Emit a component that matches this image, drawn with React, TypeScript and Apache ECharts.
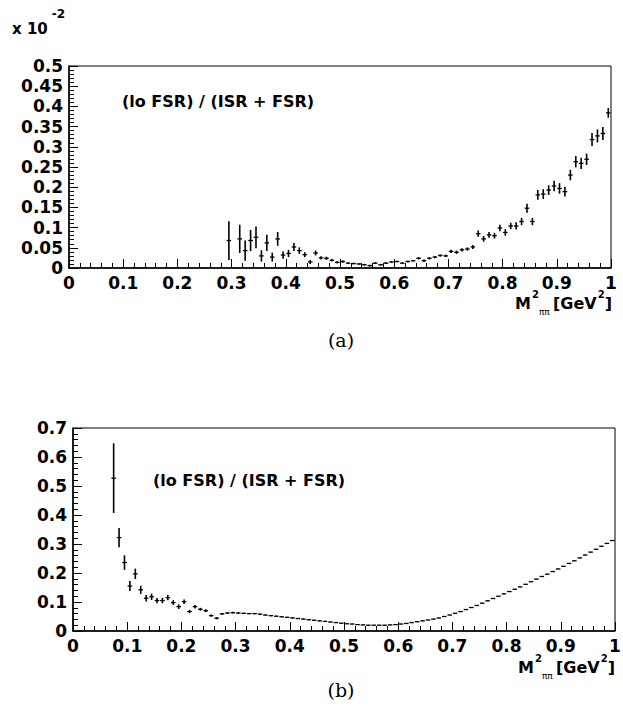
import React, { useEffect, useRef } from "react";
import * as echarts from "echarts";

// ---- data: top panel (a), values in units of 10^-2 ----
const topX = [
  0.295, 0.315, 0.325, 0.335, 0.345, 0.355, 0.365, 0.375, 0.385, 0.395,
  0.405, 0.415, 0.425, 0.435, 0.445, 0.455, 0.465, 0.475, 0.485, 0.495,
  0.505, 0.515, 0.525, 0.535, 0.545, 0.555, 0.565, 0.575, 0.585, 0.595,
  0.605, 0.615, 0.625, 0.635, 0.645, 0.655, 0.665, 0.675, 0.685, 0.695,
  0.705, 0.715, 0.725, 0.735, 0.745, 0.755, 0.765, 0.775, 0.785, 0.795,
  0.805, 0.815, 0.825, 0.835, 0.845, 0.855, 0.865, 0.875, 0.885, 0.895,
  0.905, 0.915, 0.925, 0.935, 0.945, 0.955, 0.965, 0.975, 0.985, 0.995,
];
const topY = [
  0.068, 0.072, 0.043, 0.068, 0.076, 0.030, 0.062, 0.027, 0.072, 0.032,
  0.036, 0.052, 0.043, 0.033, 0.015, 0.037, 0.025, 0.024, 0.019, 0.014,
  0.016, 0.012, 0.011, 0.010, 0.008, 0.006, 0.012, 0.008, 0.012, 0.015,
  0.016, 0.012, 0.016, 0.018, 0.024, 0.018, 0.024, 0.027, 0.031, 0.030,
  0.041, 0.039, 0.045, 0.047, 0.052, 0.085, 0.072, 0.082, 0.080, 0.099,
  0.088, 0.104, 0.104, 0.115, 0.148, 0.115, 0.181, 0.183, 0.193, 0.203,
  0.197, 0.189, 0.230, 0.263, 0.259, 0.269, 0.318, 0.327, 0.333, 0.384,
];
const topErr = [
  0.048, 0.035, 0.025, 0.026, 0.027, 0.014, 0.020, 0.011, 0.017, 0.009,
  0.009, 0.010, 0.008, 0.006, 0.005, 0.006, 0.004, 0.004, 0.003, 0.003,
  0.003, 0.002, 0.002, 0.002, 0.002, 0.002, 0.002, 0.002, 0.002, 0.002,
  0.002, 0.002, 0.002, 0.002, 0.003, 0.003, 0.003, 0.003, 0.003, 0.003,
  0.004, 0.004, 0.004, 0.004, 0.005, 0.008, 0.007, 0.007, 0.007, 0.008,
  0.008, 0.008, 0.009, 0.009, 0.011, 0.009, 0.012, 0.012, 0.012, 0.013,
  0.013, 0.012, 0.013, 0.014, 0.014, 0.014, 0.016, 0.016, 0.016, 0.012,
];

// ---- data: bottom panel (b) ----
const botX = [
  0.075, 0.085, 0.095, 0.105, 0.115, 0.125, 0.135, 0.145, 0.155, 0.165,
  0.175, 0.185, 0.195, 0.205, 0.215, 0.225, 0.235, 0.245, 0.255, 0.265,
  0.275, 0.285, 0.295, 0.305, 0.315, 0.325, 0.335, 0.345, 0.355, 0.365,
  0.375, 0.385, 0.395, 0.405, 0.415, 0.425, 0.435, 0.445, 0.455, 0.465,
  0.475, 0.485, 0.495, 0.505, 0.515, 0.525, 0.535, 0.545, 0.555, 0.565,
  0.575, 0.585, 0.595, 0.605, 0.615, 0.625, 0.635, 0.645, 0.655, 0.665,
  0.675, 0.685, 0.695, 0.705, 0.715, 0.725, 0.735, 0.745, 0.755, 0.765,
  0.775, 0.785, 0.795, 0.805, 0.815, 0.825, 0.835, 0.845, 0.855, 0.865,
  0.875, 0.885, 0.895, 0.905, 0.915, 0.925, 0.935, 0.945, 0.955, 0.965,
  0.975, 0.985, 0.995,
];
const botY = [
  0.527, 0.322, 0.236, 0.155, 0.197, 0.142, 0.113, 0.118, 0.105, 0.105,
  0.115, 0.098, 0.084, 0.101, 0.067, 0.084, 0.075, 0.070, 0.053, 0.044,
  0.059, 0.062, 0.063, 0.062, 0.061, 0.060, 0.060, 0.058, 0.055, 0.053,
  0.051, 0.049, 0.047, 0.045, 0.043, 0.041, 0.039, 0.037, 0.035, 0.033,
  0.031, 0.029, 0.027, 0.025, 0.024, 0.022, 0.021, 0.020, 0.020, 0.020,
  0.020, 0.021, 0.022, 0.024, 0.026, 0.029, 0.032, 0.035, 0.038, 0.041,
  0.045, 0.050, 0.055, 0.061, 0.067, 0.074, 0.081, 0.088, 0.096, 0.104,
  0.112, 0.120, 0.128, 0.136, 0.144, 0.152, 0.161, 0.170, 0.179, 0.188,
  0.196, 0.205, 0.214, 0.223, 0.233, 0.242, 0.252, 0.262, 0.272, 0.282,
  0.292, 0.302, 0.312,
];
const botErr = [
  0.120, 0.033, 0.025, 0.017, 0.018, 0.014, 0.011, 0.011, 0.009, 0.009,
  0.009, 0.008, 0.008, 0.008, 0.006, 0.006, 0.005, 0.005, 0.004, 0.004,
  0.003, 0.003, 0.003, 0.003, 0.002, 0.002, 0.002, 0.002, 0.002, 0.002,
  0.002, 0.002, 0.002, 0.002, 0.002, 0.002, 0.002, 0.002, 0.002, 0.002,
  0.001, 0.001, 0.001, 0.001, 0.001, 0.001, 0.001, 0.001, 0.001, 0.001,
  0.001, 0.001, 0.001, 0.001, 0.001, 0.001, 0.001, 0.001, 0.001, 0.001,
  0.001, 0.001, 0.001, 0.001, 0.001, 0.001, 0.001, 0.001, 0.001, 0.001,
  0.001, 0.001, 0.001, 0.001, 0.001, 0.001, 0.001, 0.001, 0.001, 0.001,
  0.001, 0.001, 0.001, 0.001, 0.001, 0.001, 0.001, 0.001, 0.001, 0.001,
  0.001, 0.001, 0.001,
];

const xTicks = { min: 0, max: 1, interval: 0.1 };
const topTicks = { min: 0, max: 0.5, interval: 0.05 };
const botTicks = { min: 0, max: 0.7, interval: 0.1 };

const FONT = "DejaVu Sans";
const HALF_BIN = 0.0042;

function makeRender() {
  return (params: any, api: any) => {
    const x = api.value(0);
    const y = api.value(1);
    const e = api.value(2);
    const c = api.coord([x, y]);
    const t = api.coord([x, y + e]);
    const b = api.coord([x, Math.max(0, y - e)]);
    const l = api.coord([x - HALF_BIN, y]);
    const r = api.coord([x + HALF_BIN, y]);
    return {
      type: "group",
      children: [
        {
          type: "line",
          shape: { x1: c[0], y1: t[1], x2: c[0], y2: b[1] },
          style: { stroke: "#000", lineWidth: 1.6 },
        },
        {
          type: "line",
          shape: { x1: l[0], y1: c[1], x2: r[0], y2: c[1] },
          style: { stroke: "#000", lineWidth: 1.3 },
        },
      ],
    };
  };
}

function xAxisFor(gridIndex: number) {
  return {
    type: "value",
    gridIndex,
    ...xTicks,
    axisLine: { show: true, onZero: false, lineStyle: { color: "#000", width: 1.5 } },
    axisTick: { show: true, inside: true, length: 9, lineStyle: { color: "#000", width: 1 } },
    minorTick: { show: true, splitNumber: 5, length: 5, lineStyle: { color: "#000", width: 1 } },
    splitLine: { show: false },
    minorSplitLine: { show: false },
    axisLabel: {
      color: "#000",
      fontFamily: FONT,
      fontWeight: "bold",
      fontSize: 17,
      margin: 6,
      formatter: (v: number) => String(Math.round(v * 100) / 100),
    },
  };
}

function yAxisFor(gridIndex: number, ticks: any) {
  return {
    type: "value",
    gridIndex,
    ...ticks,
    axisLine: { show: true, onZero: false, lineStyle: { color: "#000", width: 1.5 } },
    axisTick: { show: true, inside: true, length: 9, lineStyle: { color: "#000", width: 1 } },
    minorTick: { show: true, splitNumber: 5, length: 5, lineStyle: { color: "#000", width: 1 } },
    splitLine: { show: false },
    minorSplitLine: { show: false },
    axisLabel: {
      color: "#000",
      fontFamily: FONT,
      fontWeight: "bold",
      fontSize: 17,
      margin: 6,
      formatter: (v: number) => String(Math.round(v * 1000) / 1000),
    },
  };
}

const titleRich = {
  b: { fontFamily: FONT, fontWeight: "bold", fontSize: 16, fill: "#000", lineHeight: 22, verticalAlign: "bottom" },
  sup: { fontFamily: FONT, fontWeight: "bold", fontSize: 10, fill: "#000", lineHeight: 22, verticalAlign: "top", padding: [0, 0, 0, 1] },
  sub: { fontFamily: FONT, fontSize: 9, fill: "#000", lineHeight: 22, verticalAlign: "bottom", padding: [0, 0, -5, 0] },
};
const xTitle = "{b|M}{sup|2}{sub|ππ} {b|[GeV}{sup|2}{b|]}";

export default function App() {
  const ref = useRef<HTMLDivElement>(null);
  useEffect(() => {
    if (!ref.current) return;
    const chart = echarts.init(ref.current, null, { renderer: "svg" });
    const topData = topX.map((x, i) => [x, topY[i], topErr[i]]);
    const botData = botX.map((x, i) => [x, botY[i], botErr[i]]);
    chart.setOption({
      animation: false,
      backgroundColor: "#fff",
      grid: [
        { left: 69, top: 66, right: 12, height: 202, show: true, borderColor: "#000", borderWidth: 1, backgroundColor: "transparent", containLabel: false, outerBoundsMode: "none" },
        { left: 73, top: 428, right: 8, height: 203, show: true, borderColor: "#000", borderWidth: 1, backgroundColor: "transparent", containLabel: false, outerBoundsMode: "none" },
      ],
      xAxis: [xAxisFor(0), xAxisFor(1)],
      yAxis: [yAxisFor(0, topTicks), yAxisFor(1, botTicks)],
      series: [
        { type: "custom", xAxisIndex: 0, yAxisIndex: 0, data: topData, renderItem: makeRender(), encode: { x: 0, y: 1 } },
        { type: "custom", xAxisIndex: 1, yAxisIndex: 1, data: botData, renderItem: makeRender(), encode: { x: 0, y: 1 } },
      ],
      graphic: [
        {
          type: "text",
          left: 12,
          top: 8,
          style: {
            text: "{b|x 10}{sup|-2}",
            rich: {
              b: { fontFamily: FONT, fontWeight: "bold", fontSize: 15, fill: "#000", lineHeight: 28, verticalAlign: "bottom" },
              sup: { fontFamily: FONT, fontWeight: "bold", fontSize: 12, fill: "#000", lineHeight: 28, verticalAlign: "top", padding: [0, 0, 0, 4] },
            },
          },
        },
        {
          type: "text",
          x: 612,
          y: 289,
          style: { text: xTitle, rich: titleRich, align: "right", verticalAlign: "top" },
        },
        {
          type: "text",
          x: 615,
          y: 653,
          style: { text: xTitle, rich: titleRich, align: "right", verticalAlign: "top" },
        },
        {
          type: "text",
          left: 122,
          top: 93,
          style: { text: "(lo FSR) / (ISR + FSR)", fontFamily: FONT, fontWeight: "bold", fontSize: 16, fill: "#000" },
        },
        {
          type: "text",
          left: 153,
          top: 472,
          style: { text: "(lo FSR) / (ISR + FSR)", fontFamily: FONT, fontWeight: "bold", fontSize: 16, fill: "#000" },
        },
        {
          type: "text",
          x: 341,
          y: 340,
          style: { text: "(a)", fontFamily: "DejaVu Serif", fontSize: 19, fill: "#000", align: "center", verticalAlign: "middle" },
        },
        {
          type: "text",
          x: 341,
          y: 690,
          style: { text: "(b)", fontFamily: "DejaVu Serif", fontSize: 19, fill: "#000", align: "center", verticalAlign: "middle" },
        },
      ],
    });
    return () => chart.dispose();
  }, []);
  return (
    <div
      ref={ref}
      style={{ position: "fixed", left: 0, top: 0, width: 623, height: 715, background: "#fff" }}
    />
  );
}
